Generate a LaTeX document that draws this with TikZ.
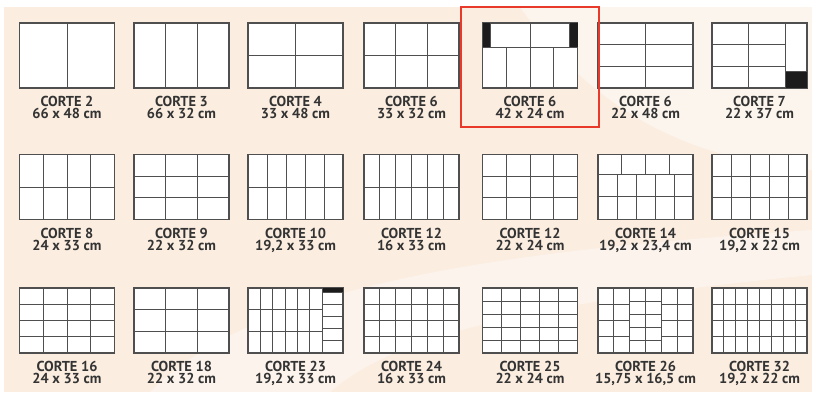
\documentclass[tikz,border=0pt]{standalone}
\usepackage{fontspec}
\setmainfont{PT Sans}
\usepackage{xcolor}
\usetikzlibrary{positioning}
\definecolor{paper}{HTML}{FBEDE0}
\definecolor{cutline}{HTML}{4F4F4F}
\definecolor{barblack}{HTML}{1C1C1C}
\definecolor{markred}{HTML}{E8392B}

\tikzset{
  corte/.style={draw=cutline, line width=0.75pt, fill=white, minimum width=1.9cm,
                minimum height=1.3cm, inner sep=0pt, outer sep=0pt},
  cut/.style={draw=cutline, line width=0.55pt},
  lbl/.style={font=\bfseries\fontsize{8.2}{6.9}\selectfont, align=center,
              inner sep=0pt, text=black!80},
  highlight/.style={draw=markred, line width=1.1pt, minimum width=2.76cm,
                    minimum height=2.4cm, inner sep=0pt},
}

% grid of cols x rows inside (x0,y0)-(x1,y1), unit box coordinates
\newcommand{\cutgrid}[6]{%
  \foreach \k in {0,...,#1}
    \draw[cut] ({#3+(#5-#3)*\k/#1},#4) -- ({#3+(#5-#3)*\k/#1},#6);
  \foreach \k in {0,...,#2}
    \draw[cut] (#3,{#4+(#6-#4)*\k/#2}) -- (#5,{#4+(#6-#4)*\k/#2});
}

% one panel: name, x, y, number, size, inner drawing
\newcommand{\cortebox}[6]{%
  \node[corte] (#1) at (#2,#3) {};
  \node[lbl, below=0.16cm of #1] (#1-lbl) {CORTE #4\\#5};
  \begin{scope}[shift={(#1.north west)}, x=1.9cm, y=-1.3cm]
    #6
  \end{scope}
}

\begin{document}
\begin{tikzpicture}[x=0.02cm, y=-0.02cm]
  \useasboundingbox (0,0) rectangle (814,396);
  \fill[white] (0,0) rectangle (814,396);
  \fill[paper] (4,7) rectangle (812,392);
  % light swooshes in the background
  \fill[white, opacity=0.45] (520,7) .. controls (600,120) and (700,160) .. (812,170)
    -- (812,7) -- cycle;
  \fill[white, opacity=0.4] (150,392) .. controls (260,280) and (520,250) .. (812,230)
    -- (812,275) .. controls (560,300) and (400,330) .. (330,392) -- cycle;

  % row 1
  \cortebox{c2}{67}{55.5}{2}{66 x 48 cm}{\cutgrid{2}{1}{0}{0}{1}{1}}
  \cortebox{c3}{181.5}{55.5}{3}{66 x 32 cm}{\cutgrid{3}{1}{0}{0}{1}{1}}
  \cortebox{c4}{295.5}{55.5}{4}{33 x 48 cm}{\cutgrid{2}{2}{0}{0}{1}{1}}
  \cortebox{c6a}{411.5}{55.5}{6}{33 x 32 cm}{\cutgrid{3}{2}{0}{0}{1}{1}}
  \cortebox{c6b}{530}{55.5}{6}{42 x 24 cm}{%
    \fill[barblack] (0,0) rectangle (0.08,0.375);
    \fill[barblack] (0.92,0) rectangle (1,0.375);
    \cutgrid{2}{1}{0.08}{0}{0.92}{0.375}
    \cutgrid{4}{1}{0}{0.375}{1}{1}}
  \cortebox{c6c}{645.5}{55.5}{6}{22 x 48 cm}{\cutgrid{2}{3}{0}{0}{1}{1}}
  \cortebox{c7}{759.5}{55.5}{7}{22 x 37 cm}{%
    \fill[barblack] (0.77,0.75) rectangle (1,1);
    \cutgrid{2}{3}{0}{0}{0.77}{1}
    \cutgrid{1}{1}{0.77}{0.75}{1}{1}}

  % row 2
  \cortebox{c8}{67}{187}{8}{24 x 33 cm}{\cutgrid{4}{2}{0}{0}{1}{1}}
  \cortebox{c9}{181.5}{187}{9}{22 x 32 cm}{\cutgrid{3}{3}{0}{0}{1}{1}}
  \cortebox{c10}{295.5}{187}{10}{19,2 x 33 cm}{\cutgrid{5}{2}{0}{0}{1}{1}}
  \cortebox{c12a}{411.5}{187}{12}{16 x 33 cm}{\cutgrid{6}{2}{0}{0}{1}{1}}
  \cortebox{c12b}{530}{187}{12}{22 x 24 cm}{\cutgrid{4}{3}{0}{0}{1}{1}}
  \cortebox{c14}{645.5}{187}{14}{19,2 x 23,4 cm}{%
    \cutgrid{4}{1}{0}{0}{1}{0.3}
    \cutgrid{5}{2}{0}{0.3}{1}{1}}
  \cortebox{c15}{759.5}{187}{15}{19,2 x 22 cm}{\cutgrid{5}{3}{0}{0}{1}{1}}

  % row 3
  \cortebox{c16}{67}{320.5}{16}{24 x 33 cm}{\cutgrid{4}{4}{0}{0}{1}{1}}
  \cortebox{c18}{181.5}{320.5}{18}{22 x 32 cm}{\cutgrid{3}{3}{0}{0}{1}{1}}
  \cortebox{c23}{295.5}{320.5}{23}{19,2 x 33 cm}{%
    \fill[barblack] (0.78,0) rectangle (1,0.065);
    \cutgrid{6}{3}{0}{0}{0.78}{1}
    \cutgrid{1}{5}{0.78}{0.065}{1}{1}}
  \cortebox{c24}{411.5}{320.5}{24}{16 x 33 cm}{\cutgrid{6}{4}{0}{0}{1}{1}}
  \cortebox{c25}{530}{320.5}{25}{22 x 24 cm}{\cutgrid{5}{5}{0}{0}{1}{1}}
  \cortebox{c26}{645.5}{320.5}{26}{15,75 x 16,5 cm}{%
    \cutgrid{2}{4}{0}{0}{0.3333}{1}
    \cutgrid{2}{5}{0.3333}{0}{0.6667}{1}
    \cutgrid{2}{4}{0.6667}{0}{1}{1}}
  \cortebox{c32}{759.5}{320.5}{32}{19,2 x 22 cm}{\cutgrid{8}{4}{0}{0}{1}{1}}

  % selected panel
  \node[highlight] (sel) at (530,67) {};
\end{tikzpicture}
\end{document}
